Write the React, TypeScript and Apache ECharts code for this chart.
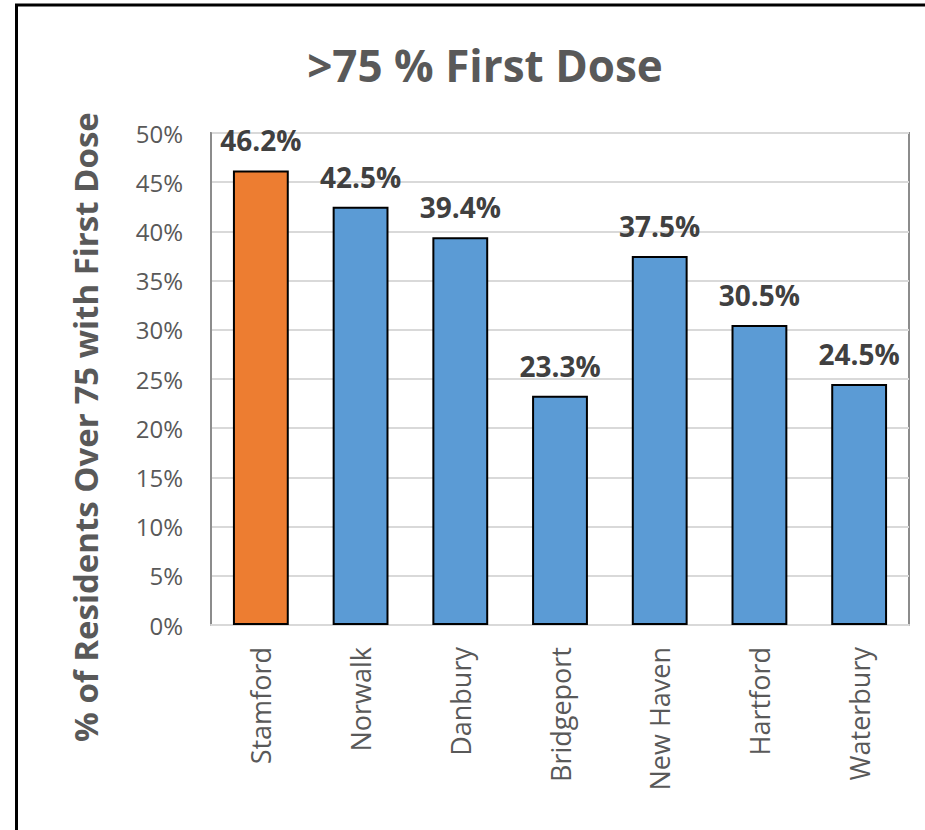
import React, { useEffect, useRef } from "react";
import * as echarts from "echarts";

const categories = ["Stamford", "Norwalk", "Danbury", "Bridgeport", "New Haven", "Hartford", "Waterbury"];
const values = [46.2, 42.5, 39.4, 23.3, 37.5, 30.5, 24.5];
const barColors = ["#ED7D31", "#5B9BD5", "#5B9BD5", "#5B9BD5", "#5B9BD5", "#5B9BD5", "#5B9BD5"];
const titleText = ">75 % First Dose";
const yAxisTitle = "% of Residents Over 75 with First Dose";

const FONT = "'Open Sans', 'Liberation Sans', sans-serif";

export default function App() {
  const ref = useRef<HTMLDivElement>(null);
  useEffect(() => {
    if (!ref.current) return;
    const chart = echarts.init(ref.current, undefined, { renderer: "svg" });
    chart.setOption({
      animation: false,
      backgroundColor: "#ffffff",
      title: {
        text: titleText,
        left: 480,
        top: 38,
        textAlign: "center",
        textStyle: { fontFamily: FONT, fontSize: 44, fontWeight: "bold", color: "#595959" },
      },
      graphic: [
        {
          type: "rect",
          shape: { x: 16.5, y: 5, width: 1000, height: 1000 },
          style: { fill: "none", stroke: "#000000", lineWidth: 3 },
          silent: true,
        },
        {
          type: "text",
          x: 85,
          y: 427,
          rotation: Math.PI / 2,
          style: {
            text: yAxisTitle,
            align: "center",
            verticalAlign: "middle",
            fontFamily: FONT,
            fontSize: 33,
            fontWeight: "bold",
            fill: "#595959",
          },
          silent: true,
        },
      ],
      grid: {
        left: 211,
        top: 133,
        width: 698,
        height: 492,
        show: true,
        borderColor: "#8c8c8c",
        borderWidth: 2,
        containLabel: false,
      },
      xAxis: {
        type: "category",
        data: categories,
        axisTick: { show: false },
        axisLine: { show: true, lineStyle: { color: "#d9d9d9", width: 2 } },
        axisLabel: {
          rotate: 90,
          margin: 22,
          fontFamily: FONT,
          fontSize: 27,
          color: "#595959",
          interval: 0,
        },
      },
      yAxis: {
        type: "value",
        min: 0,
        max: 50,
        interval: 5,
        axisLine: { show: true, lineStyle: { color: "#8c8c8c", width: 2 } },
        axisTick: { show: false },
        splitLine: { show: true, lineStyle: { color: "#d9d9d9", width: 2 } },
        axisLabel: {
          formatter: "{value}%",
          margin: 28,
          fontFamily: FONT,
          fontSize: 24,
          color: "#595959",
        },
      },
      series: [
        {
          type: "bar",
          data: values.map((v, i) => ({ value: v, itemStyle: { color: barColors[i] } })),
          barWidth: "56%",
          itemStyle: { borderColor: "#000000", borderWidth: 2 },
          label: {
            show: true,
            position: "top",
            distance: 16,
            formatter: (p: any) => p.value.toFixed(1) + "%",
            fontFamily: FONT,
            fontSize: 28,
            fontWeight: "bold",
            color: "#404040",
          },
        },
      ],
    });
    return () => chart.dispose();
  }, []);
  return (
    <div style={{ position: "absolute", left: 0, top: 0, width: 925, height: 830 }}>
      <div ref={ref} style={{ width: 925, height: 830 }} />
    </div>
  );
}
